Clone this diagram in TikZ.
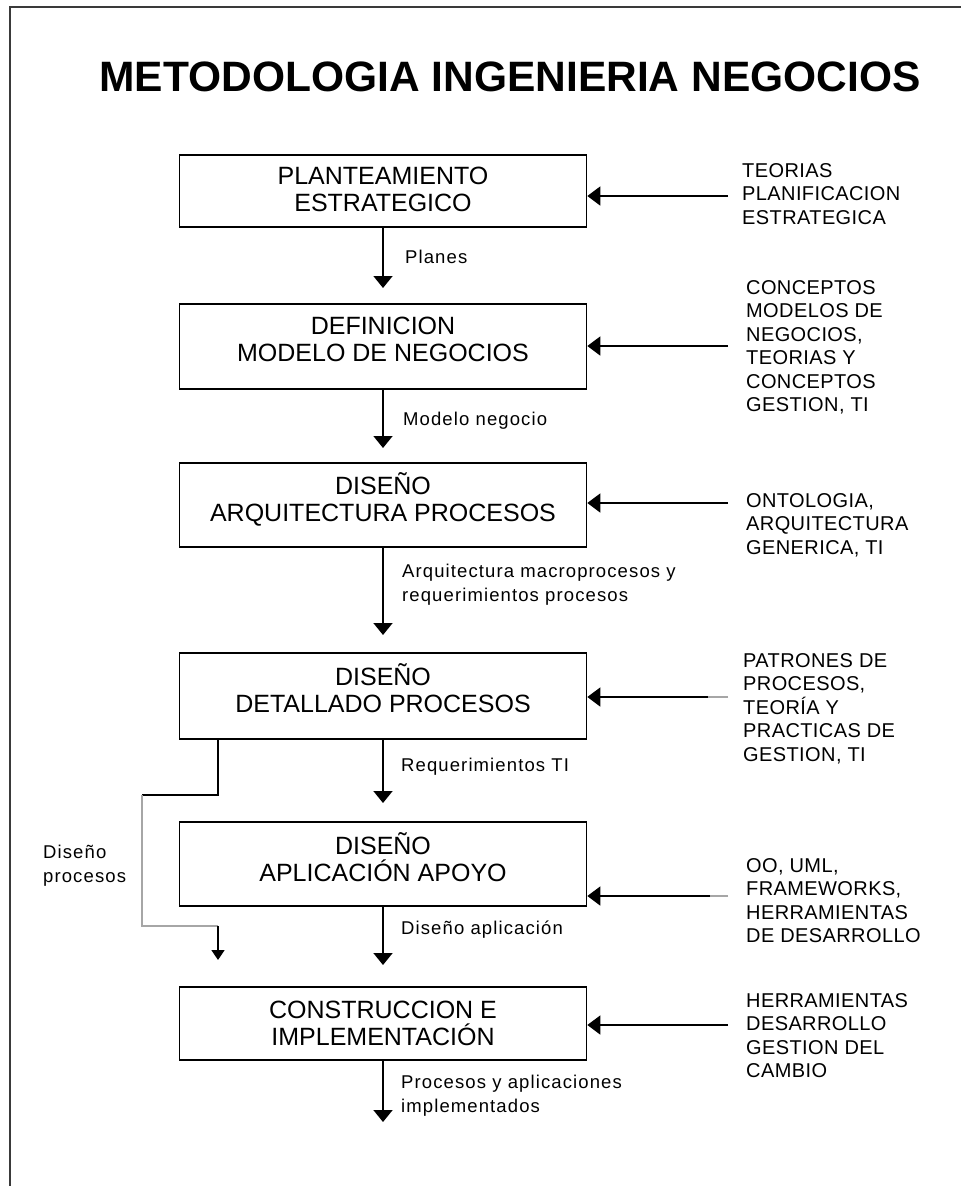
\documentclass[tikz,border=0pt]{standalone}
\usepackage{fontspec}
\setmainfont{Liberation Sans}
\newfontfamily\labelfont[LetterSpace=6]{Liberation Sans}
\newfontfamily\sidefont[LetterSpace=2]{Liberation Sans}
\usetikzlibrary{arrows.meta,calc}
\definecolor{framegray}{HTML}{3A3A3A}
\definecolor{linegray}{HTML}{A6A6A6}
\tikzset{
  stepbox/.style={draw=black, line width=1.7pt, minimum width=407pt, inner sep=0pt, rectangle},
  boxtext/.style={align=center, inner sep=0pt, font={\fontsize{25}{27}\selectfont}},
  sidetext/.style={align=left, anchor=north west, inner sep=0pt, font={\sidefont\fontsize{20}{23.5}\selectfont}},
  flowlabel/.style={align=left, inner sep=0pt, font={\labelfont\fontsize{18.5}{23.5}\selectfont}},
  flowline/.style={draw=black, line width=1.7pt},
  downarrow/.style={flowline, -{Triangle[width=19pt,length=12pt]}},
  inarrow/.style={flowline, -{Triangle[width=19pt,length=13pt]}},
  smallarrow/.style={flowline, -{Triangle[width=13pt,length=10pt]}},
  grayline/.style={draw=linegray, line width=1.7pt}
}
\begin{document}
\begin{tikzpicture}[x=1pt,y=-1pt]
\useasboundingbox (0,0) rectangle (961,1186);
\fill[white] (0,0) rectangle (961,1186);
% frame
\coordinate (fa) at (10,1190);
\coordinate (fb) at (10,7);
\coordinate (fc) at (965,7);
\draw[framegray, line width=2.2pt] (fa) -- (fb) -- (fc);
% title
\node[inner sep=0pt, font={\fontsize{42.5}{48}\selectfont\bfseries}] (title) at (510,77) {METODOLOGIA INGENIERIA NEGOCIOS};

% boxes
\node[stepbox, minimum height=72pt] (b1) at (383,191) {};
\node[stepbox, minimum height=85pt] (b2) at (383,346.5) {};
\node[stepbox, minimum height=84pt] (b3) at (383,505) {};
\node[stepbox, minimum height=86pt] (b4) at (383,696) {};
\node[stepbox, minimum height=84pt] (b5) at (383,864) {};
\node[stepbox, minimum height=73pt] (b6) at (383,1023.5) {};

\node[boxtext] (t1) at (383,189.5) {PLANTEAMIENTO\\ESTRATEGICO};
\node[boxtext] (t2) at (383,339.5) {DEFINICION\\MODELO DE NEGOCIOS};
\node[boxtext] (t3) at (383,499) {DISEÑO\\ARQUITECTURA PROCESOS};
\node[boxtext] (t4) at (383,688.5) {DISEÑO\\DETALLADO PROCESOS};
\node[boxtext] (t5) at (383,857) {DISEÑO\\APLICACIÓN APOYO};
\node[boxtext] (t6) at (383,1023.5) {CONSTRUCCION E\\IMPLEMENTACIÓN};

% down arrows
\coordinate (e1) at (383,288);
\coordinate (e2) at (383,448);
\coordinate (e3) at (383,635);
\coordinate (e4) at (383,803);
\coordinate (e5) at (383,965);
\coordinate (e6) at (383,1122);
\draw[downarrow] (b1.south) -- (e1);
\draw[downarrow] (b2.south) -- (e2);
\draw[downarrow] (b3.south) -- (e3);
\draw[downarrow] (b4.south) -- (e4);
\draw[downarrow] (b5.south) -- (e5);
\draw[downarrow] (b6.south) -- (e6);

% flow labels
\node[flowlabel, anchor=base west] (l1) at (405,263) {Planes};
\node[flowlabel, anchor=base west] (l2) at (403,425) {Modelo negocio};
\node[flowlabel, anchor=north west] (l3) at (402,564) {Arquitectura macroprocesos y\\requerimientos procesos};
\node[flowlabel, anchor=base west] (l4) at (401,771) {Requerimientos TI};
\node[flowlabel, anchor=base west] (l5) at (401,934) {Diseño aplicación};
\node[flowlabel, anchor=north west] (l6) at (401,1075) {Procesos y aplicaciones\\implementados};
\node[flowlabel, anchor=north west] (l7) at (43,845) {Diseño\\procesos};

% side connector from b4
\coordinate (d1) at (218,795);
\coordinate (d2) at (142,795);
\coordinate (d3) at (142,926);
\coordinate (d4) at (218,926);
\coordinate (d5) at (218,960);
\draw[flowline] (b4.south -| d1) -- (d1) -- (d2);
\draw[grayline] (d2) -- (d3) -- (d4);
\draw[smallarrow] (d4) -- (d5);

% side inputs
\coordinate (s1) at (728,196);
\coordinate (s2) at (728,346);
\coordinate (s3) at (728,503);
\coordinate (s4) at (728,697);
\coordinate (g4) at (708,697);
\coordinate (s5) at (728,896);
\coordinate (g5) at (710,896);
\coordinate (s6) at (728,1025);
\draw[inarrow] (s1) -- (s1 -| b1.east);
\draw[inarrow] (s2) -- (s2 -| b2.east);
\draw[inarrow] (s3) -- (s3 -| b3.east);
\draw[grayline] (s4) -- (g4);
\draw[inarrow] (g4) -- (g4 -| b4.east);
\draw[grayline] (s5) -- (g5);
\draw[inarrow] (g5) -- (g5 -| b5.east);
\draw[inarrow] (s6) -- (s6 -| b6.east);

\node[sidetext] (r1) at (742,163) {TEORIAS\\PLANIFICACION\\ESTRATEGICA};
\node[sidetext] (r2) at (746,280) {CONCEPTOS\\MODELOS DE\\NEGOCIOS,\\TEORIAS Y\\CONCEPTOS\\GESTION, TI};
\node[sidetext] (r3) at (746,493) {ONTOLOGIA,\\ARQUITECTURA\\GENERICA, TI};
\node[sidetext] (r4) at (743,653) {PATRONES DE\\PROCESOS,\\TEORÍA Y\\PRACTICAS DE\\GESTION, TI};
\node[sidetext] (r5) at (746,858) {OO, UML,\\FRAMEWORKS,\\HERRAMIENTAS\\DE DESARROLLO};
\node[sidetext] (r6) at (746,993) {HERRAMIENTAS\\DESARROLLO\\GESTION DEL\\CAMBIO};
\end{tikzpicture}
\end{document}
